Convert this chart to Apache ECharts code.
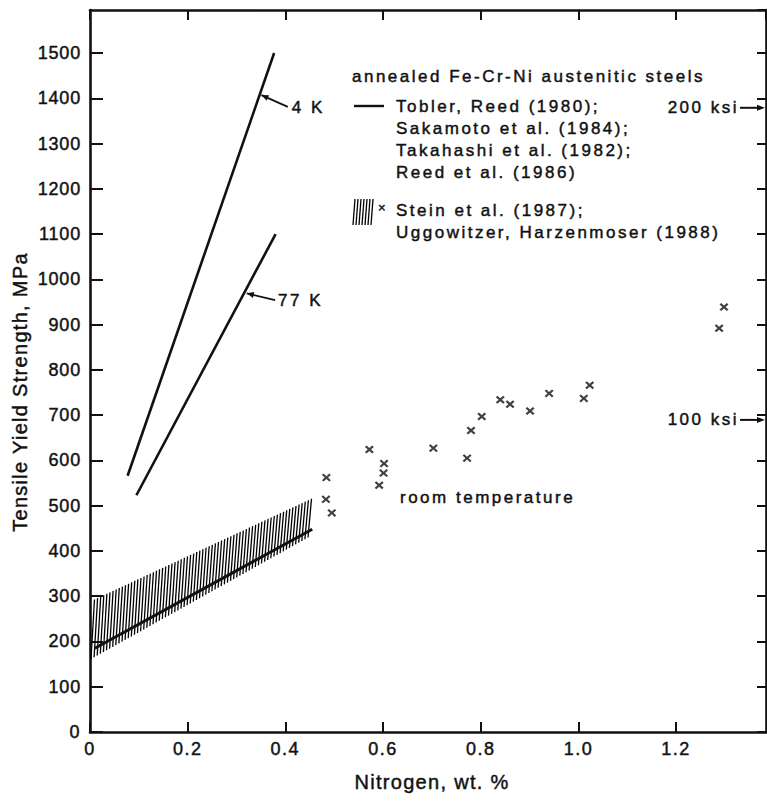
<!DOCTYPE html>
<html>
<head>
<meta charset="utf-8">
<script src="https://cdn.jsdelivr.net/npm/echarts@6.0.0/dist/echarts.min.js"></script>
<style>
  html, body { margin: 0; padding: 0; background: #fff; }
  #chart { width: 767px; height: 807px; }
</style>
</head>
<body>
<div id="chart"></div>
<script>
// ---------------- data ----------------
const xTickLabels = ['0', '0.2', '0.4', '0.6', '0.8', '1.0', '1.2'];
const yTickLabels = ['0', '100', '200', '300', '400', '500', '600', '700', '800', '900', '1000', '1100', '1200', '1300', '1400', '1500'];

// cryogenic trend lines (Nitrogen wt.%, MPa)
const line4K = [[0.077, 566], [0.377, 1500]];
const line77K = [[0.095, 523], [0.380, 1100]];
// room temperature trend line
const lineRT = [[0.01, 185], [0.455, 448]];
// hatched scatter band (room temperature)
const bandX = [0, 0.455];
const bandUpper = [288, 516];
const bandLower = [160, 435];

// room temperature data points (x marks)
const pointsN = [0.484, 0.483, 0.495, 0.572, 0.602, 0.601, 0.592, 0.703, 0.772, 0.780, 0.802, 0.840, 0.860, 0.901, 0.940, 1.011, 1.023, 1.288, 1.298];
const pointsMPa = [562, 514, 484, 624, 593, 572, 545, 627, 605, 666, 697, 734, 724, 709, 748, 737, 766, 892, 939];

// ksi markers on right axis
const ksiMarks = [100, 200];
const MPA_PER_KSI = 6.894757;

// texts
const tempLabels = ['4 K', '77 K'];
const legendTitle = 'annealed Fe-Cr-Ni austenitic steels';
const legendGroup1 = ['Tobler, Reed (1980);', 'Sakamoto et al. (1984);', 'Takahashi et al. (1982);', 'Reed et al. (1986)'];
const legendGroup2 = ['Stein et al. (1987);', 'Uggowitzer, Harzenmoser (1988)'];
const roomTempLabel = 'room temperature';
const xTitle = 'Nitrogen, wt. %';
const yTitle = 'Tensile Yield Strength, MPa';

// ---------------- layout/style ----------------
const X_MAX = 1.384, Y_MAX = 1595;
const INK = '#111';
const FONT = 'Liberation Sans, Arial, Helvetica, sans-serif';
const TXT_STROKE = 0.45;

// annotation anchors for temperature labels (data coordinates)
const tempAnchors = [
  { tip: [0.351, 1407], tail: [0.405, 1381], text: [0.413, 1380] },
  { tip: [0.321, 969], tail: [0.379, 954], text: [0.385, 954] }
];

function arrowHead(tip, tail, len, half) {
  const dx = tip[0] - tail[0], dy = tip[1] - tail[1];
  const d = Math.sqrt(dx * dx + dy * dy) || 1;
  const ux = dx / d, uy = dy / d;
  const bx = tip[0] - ux * len, by = tip[1] - uy * len;
  return [tip, [bx - uy * half, by + ux * half], [bx + uy * half, by - ux * half]];
}

function txt(text, x, y, size, align, extra) {
  return Object.assign({
    type: 'text', x, y,
    style: { text, fill: INK, stroke: INK, lineWidth: TXT_STROKE, font: size + 'px ' + FONT, textAlign: align, textVerticalAlign: 'middle' }
  }, extra || {});
}

const chart = echarts.init(document.getElementById('chart'), null, { renderer: 'svg' });

const axisLineStyle = { color: INK, width: 2.6 };
const tickStyle = { color: INK, width: 2 };

const xMarkPath = 'path://M0,1.8 L1.8,0 L5,3.2 L8.2,0 L10,1.8 L6.8,5 L10,8.2 L8.2,10 L5,6.8 L1.8,10 L0,8.2 L3.2,5 Z';

// legend hatch sample
const legendHatch = [];
for (let i = 0; i < 7; i++) {
  const x = 353 + i * 3;
  legendHatch.push({ type: 'line', shape: { x1: x, y1: 225, x2: x + 2, y2: 199 }, style: { stroke: '#000', lineWidth: 1.3 } });
}

const labelCommon = { fontSize: 18, color: INK, fontFamily: FONT, textBorderColor: INK, textBorderWidth: TXT_STROKE };

const option = {
  animation: false,
  backgroundColor: '#fff',
  textStyle: { fontFamily: FONT },
  grid: { left: 90, right: 1, top: 10, bottom: 75 },
  xAxis: [
    {
      type: 'value', min: 0, max: X_MAX, interval: 0.2, position: 'bottom',
      axisLine: { show: true, onZero: false, lineStyle: axisLineStyle },
      axisTick: { show: true, inside: true, length: 10, lineStyle: tickStyle },
      axisLabel: Object.assign({
        show: true, margin: 8, showMaxLabel: false,
        formatter: v => { const i = Math.round(v / 0.2); return Math.abs(v - i * 0.2) < 1e-6 && xTickLabels[i] !== undefined ? xTickLabels[i] : ''; }
      }, labelCommon),
      splitLine: { show: false }
    },
    {
      type: 'value', min: 0, max: X_MAX, interval: 0.2, position: 'top',
      axisLine: { show: true, onZero: false, lineStyle: axisLineStyle },
      axisTick: { show: true, inside: true, length: 10, lineStyle: tickStyle },
      axisLabel: { show: false }, splitLine: { show: false }
    }
  ],
  yAxis: [
    {
      type: 'value', min: 0, max: Y_MAX, interval: 100, position: 'left',
      axisLine: { show: true, onZero: false, lineStyle: axisLineStyle },
      axisTick: { show: true, inside: true, length: 13, lineStyle: tickStyle },
      axisLabel: Object.assign({
        show: true, margin: 9, showMaxLabel: false,
        formatter: v => { const i = Math.round(v / 100); return Math.abs(v - i * 100) < 1e-6 && yTickLabels[i] !== undefined ? yTickLabels[i] : ''; }
      }, labelCommon),
      splitLine: { show: false }
    },
    {
      type: 'value', min: 0, max: Y_MAX, interval: 100, position: 'right',
      axisLine: { show: true, onZero: false, lineStyle: axisLineStyle },
      axisTick: { show: true, inside: true, length: 9, lineStyle: tickStyle },
      axisLabel: { show: false }, splitLine: { show: false }
    }
  ],
  series: [
    // hatched band
    {
      type: 'custom', xAxisIndex: 0, yAxisIndex: 0, silent: true, z: 2,
      data: [[0, 0]],
      renderItem: (params, api) => {
        const l0 = api.coord([bandX[0], bandLower[0]]), l1 = api.coord([bandX[1], bandLower[1]]);
        const u0 = api.coord([bandX[0], bandUpper[0]]), u1 = api.coord([bandX[1], bandUpper[1]]);
        const lowY = x => l0[1] + (l1[1] - l0[1]) * (x - l0[0]) / (l1[0] - l0[0]);
        const upY = x => u0[1] + (u1[1] - u0[1]) * (x - u0[0]) / (u1[0] - u0[0]);
        const slant = 3.5, step = 3.1;
        const children = [];
        for (let x = l0[0] + 1; x + slant <= l1[0] + 0.5; x += step) {
          children.push({
            type: 'line',
            shape: { x1: x, y1: lowY(x), x2: x + slant, y2: upY(x + slant) },
            style: { stroke: '#000', lineWidth: 1.3 }
          });
        }
        return { type: 'group', children };
      }
    },
    {
      type: 'line', data: line4K, symbol: 'none', silent: true, z: 3,
      lineStyle: { color: INK, width: 2.6 }
    },
    {
      type: 'line', data: line77K, symbol: 'none', silent: true, z: 3,
      lineStyle: { color: INK, width: 2.6 }
    },
    {
      type: 'line', data: lineRT, symbol: 'none', silent: true, z: 3,
      lineStyle: { color: INK, width: 3 }
    },
    {
      type: 'scatter', silent: true, z: 4,
      data: pointsN.map((n, i) => [n, pointsMPa[i]]),
      symbol: xMarkPath, symbolSize: [9, 8],
      itemStyle: { color: INK }
    },
    // temperature labels with arrows
    {
      type: 'custom', silent: true, z: 5,
      data: tempLabels.map((t, i) => [i, 0]),
      renderItem: (params, api) => {
        const i = params.dataIndex;
        const a = tempAnchors[i];
        const tip = api.coord(a.tip), tail = api.coord(a.tail), tp = api.coord(a.text);
        const head = arrowHead(tip, tail, 7, 3);
        return {
          type: 'group', children: [
            { type: 'line', shape: { x1: tail[0], y1: tail[1], x2: tip[0], y2: tip[1] }, style: { stroke: INK, lineWidth: 1.8 } },
            { type: 'polygon', shape: { points: head }, style: { fill: INK } },
            txt(tempLabels[i], tp[0], tp[1], 17, 'left')
          ]
        };
      }
    },
    // ksi markers
    {
      type: 'custom', silent: true, z: 5,
      data: ksiMarks.map(k => [X_MAX, k * MPA_PER_KSI]),
      renderItem: (params, api) => {
        const p = api.coord([api.value(0), api.value(1)]);
        const tip = [p[0] - 1, p[1]], tail = [p[0] - 26, p[1]];
        const head = arrowHead(tip, tail, 8, 3);
        return {
          type: 'group', children: [
            { type: 'line', shape: { x1: tail[0], y1: tail[1], x2: tip[0] - 4, y2: tip[1] }, style: { stroke: INK, lineWidth: 2 } },
            { type: 'polygon', shape: { points: head }, style: { fill: INK } },
            txt(ksiMarks[params.dataIndex] + ' ksi', tail[0] - 1, p[1], 17, 'right')
          ]
        };
      }
    }
  ],
  graphic: [
    txt(legendTitle, 352, 76, 17, 'left'),
    { type: 'line', shape: { x1: 354, y1: 106, x2: 384, y2: 106 }, style: { stroke: INK, lineWidth: 2.4 } },
    ...legendGroup1.map((t, i) => txt(t, 396, 106 + i * 22, 17, 'left')),
    ...legendHatch,
    txt('×', 378, 207, 13, 'left'),
    ...legendGroup2.map((t, i) => txt(t, 396, 210 + i * 22, 17, 'left')),
    txt(roomTempLabel, 400, 497, 17, 'left'),
    txt(xTitle, 432, 782, 20, 'center'),
    txt(yTitle, 20, 392, 20, 'center', { rotation: Math.PI / 2 })
  ]
};

chart.setOption(option);

// approximate the wide tracking of the original typeface
const spacing = new Map();
[legendTitle, ...legendGroup1, ...legendGroup2, roomTempLabel, ...tempLabels, '100 ksi', '200 ksi'].forEach(t => spacing.set(t, 2.5));
[xTitle, yTitle].forEach(t => spacing.set(t, 1.3));
xTickLabels.forEach(t => { if (!spacing.has(t)) spacing.set(t, 1.5); });
yTickLabels.forEach(t => { if (!spacing.has(t)) spacing.set(t, 0.8); });
function applySpacing() {
  document.querySelectorAll('#chart svg text').forEach(el => {
    const s = spacing.get(el.textContent);
    if (s !== undefined) el.style.letterSpacing = s + 'px';
  });
}
applySpacing();
chart.on('finished', applySpacing);
</script>
</body>
</html>
